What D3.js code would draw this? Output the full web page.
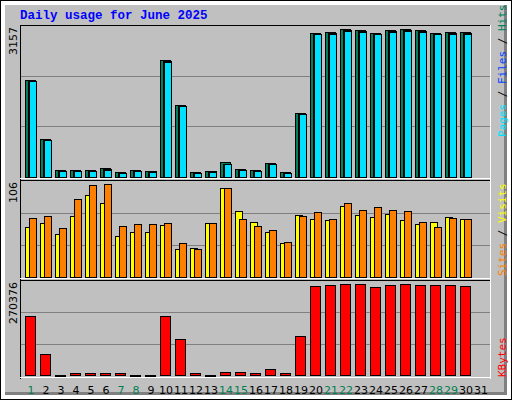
<!DOCTYPE html>
<html><head><meta charset="utf-8">
<script src="https://cdn.jsdelivr.net/npm/d3@7"></script>
<style>body{margin:0;background:#fff}svg{display:block}</style>
</head><body>
<script>
const days = d3.range(1, 32);
const weekend = [1,7,8,14,15,21,22,28,29];
const hits  = [2015,783,139,139,139,181,98,139,125,2424,1495,98,125,305,166,139,285,98,1323,2985,3005,3068,3047,2985,3047,3068,3047,2985,3005,3005,0];
const files = [1995,765,125,125,125,160,88,125,115,2400,1475,88,115,280,150,125,265,88,1305,2965,2985,3048,3027,2965,3027,3048,3027,2965,2985,2985,0];
const pages = [1988,762,118,118,118,142,82,118,110,2390,1470,82,110,270,145,118,262,82,1300,2960,2980,3040,3020,2960,3020,3040,3020,2960,2980,2980,0];
const sites  = [55,59.6,47.3,67.4,90.8,81.9,45,49.5,49.5,57.3,30.6,31.7,59.6,98.6,73,61.4,49.5,37.3,68.5,64,62.9,78.6,68.5,66.3,69.6,62.9,58.5,60.7,66.3,64,0];
const visits = [65,67.4,54,86.4,102,103,56.2,58.5,58.5,59.6,37.3,30.6,59.6,98.6,64,56.2,51.8,38.4,67.4,71.9,64,81.9,74.1,77.4,74.1,73,60.7,55.1,65.2,64,0];
const kbytes = [167917,59767,300,5700,5700,5700,5700,300,300,167917,102458,5700,300,8538,8538,5700,17076,5700,111000,253300,256146,259000,259000,250453,256146,259000,256146,256146,256146,253300,0];
const maxHits = 3157, maxVisits = 106, maxKB = 270376;

const W = 512, H = 400;
const svg = d3.select("body").append("svg").attr("width", W).attr("height", H)
  .attr("shape-rendering", "crispEdges");

// frame
svg.append("rect").attr("x",0).attr("y",0).attr("width",W).attr("height",H).attr("fill","#000");
svg.append("rect").attr("x",1).attr("y",1).attr("width",W-2).attr("height",H-2).attr("fill","#fff");
svg.append("rect").attr("x",5).attr("y",5).attr("width",W-10).attr("height",H-10).attr("fill","#808080");
svg.append("rect").attr("x",5).attr("y",5).attr("width",W-10-3).attr("height",H-10-3).attr("fill","#c0c0c0");
svg.append("path").attr("d",`M1,1L${W-1},1L${W-6},5L5,5L5,${H-6}L1,${H-1}Z`).attr("fill","#fff");

svg.append("text").attr("x",20).attr("y",19).text("Daily usage for June 2025")
  .attr("font-family","Liberation Mono, DejaVu Sans Mono, monospace").attr("font-weight","bold")
  .attr("font-size",12.5).attr("fill","#0000ff");

const x = d3.scaleLinear().domain([1,31]).range([25,475]);
const L = 20, R = 491;
const panels = [[25,180],[180,280],[280,379]];
panels.forEach(([t,b]) => {
  svg.append("rect").attr("x",L).attr("y",t).attr("width",R-L).attr("height",b-t).attr("fill","#c0c0c0");
  svg.append("line").attr("x1",L).attr("x2",R).attr("y1",t+0.5).attr("y2",t+0.5).attr("stroke","#000");
  svg.append("line").attr("x1",L+0.5).attr("x2",L+0.5).attr("y1",t).attr("y2",b).attr("stroke","#000");
  svg.append("line").attr("x1",L).attr("x2",R).attr("y1",b-1.5).attr("y2",b-1.5).attr("stroke","#fff");
  svg.append("line").attr("x1",R-0.5).attr("x2",R-0.5).attr("y1",t).attr("y2",b).attr("stroke","#fff");
});

const yH = d3.scaleLinear().domain([0,maxHits]).range([177,25]);
const yV = d3.scaleLinear().domain([0,maxVisits]).range([276.7,181.7]);
const yK = d3.scaleLinear().domain([0,maxKB]).range([375.3,280.3]);

function grid(y, vals){
  vals.forEach(v => svg.append("line").attr("x1",L+1).attr("x2",R-1)
    .attr("y1",Math.round(y(v))+0.5).attr("y2",Math.round(y(v))+0.5).attr("stroke","#808080"));
}
grid(yH,[maxHits/3,maxHits*2/3]); grid(yV,[maxVisits/3,maxVisits*2/3]); grid(yK,[maxKB/3,maxKB*2/3]);

function bars(data, y, off, w, color){
  svg.append("g").selectAll("rect").data(data.map((v,i)=>({v,d:i+1})).filter(o=>o.v>0))
    .join("rect")
    .attr("x", o => Math.round(x(o.d))+off+0.5)
    .attr("y", o => Math.round(y(o.v))+0.5)
    .attr("width", w)
    .attr("height", o => Math.max(1, Math.round(y(0))-Math.round(y(o.v))))
    .attr("fill", color).attr("stroke","#000");
}
bars(hits, yH, 0, 10, "#00805c");
bars(files, yH, 3, 8, "#0040ff");
bars(pages, yH, 4, 7, "#00e0ff");
bars(sites, yV, 0, 7, "#ffff00");
bars(visits, yV, 4, 7, "#ff8000");
bars(kbytes, yK, 0, 10, "#ff0000");

// day labels
svg.append("g").selectAll("text").data(days).join("text")
  .attr("x", d => x(d)+6).attr("y", 394).attr("text-anchor","middle")
  .attr("font-family","DejaVu Sans, sans-serif").attr("font-size",11)
  .attr("fill", d => weekend.includes(d) ? "#008050" : "#000").text(d => d);

// y max labels (rotated)
const ylab = [[maxHits,27],[maxVisits,182],[maxKB,282]];
ylab.forEach(([v,y0]) => svg.append("text")
  .attr("transform",`translate(17,${y0}) rotate(-90)`).attr("text-anchor","end")
  .attr("font-family","DejaVu Sans, sans-serif").attr("font-size",11).attr("fill","#000").text(v));

// right legends (rotated, read bottom to top)
function legend(parts, yBottom){
  const t = svg.append("text").attr("transform",`translate(506,${yBottom}) rotate(-90)`)
    .attr("font-family","DejaVu Sans Mono, monospace").attr("font-size",11);
  parts.forEach(([s,c]) => t.append("tspan").attr("fill",c).text(s));
}
legend([["Pages","#00e0ff"],[" / ","#000"],["Files","#0040ff"],[" / ","#000"],["Hits","#00805c"]], 137);
legend([["Sites","#ff8000"],[" / ","#000"],["Visits","#ffff00"]], 276);
legend([["KBytes","#ff0000"]], 377);
</script>
</body></html>
